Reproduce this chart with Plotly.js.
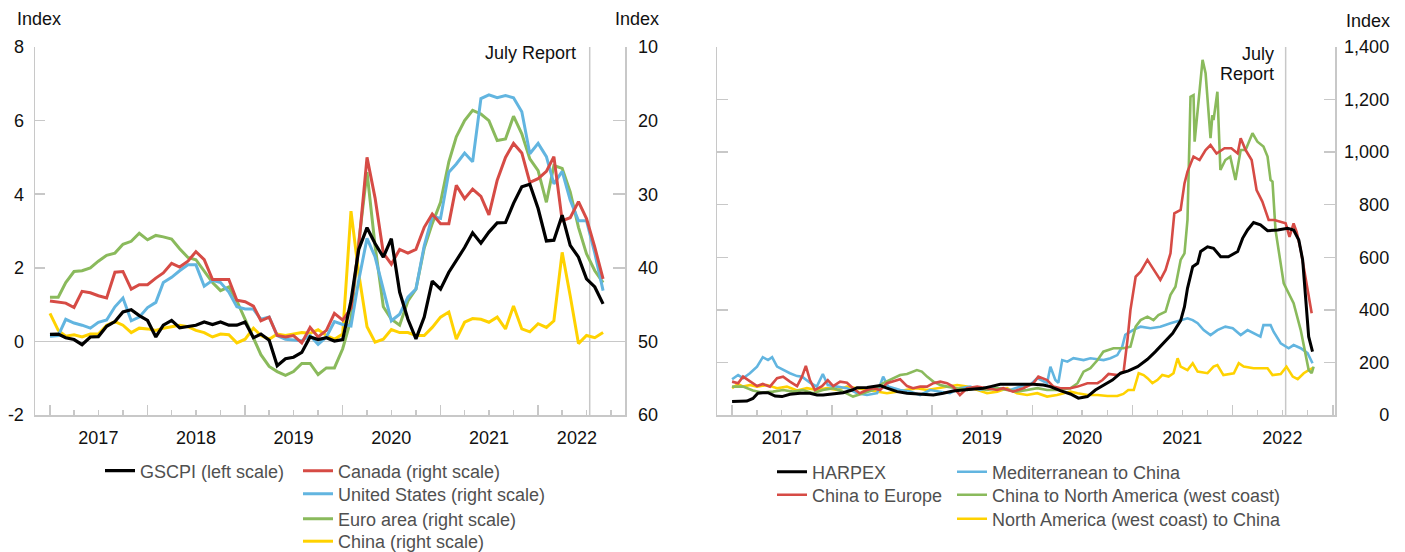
<!DOCTYPE html>
<html><head><meta charset="utf-8">
<script src="https://cdn.plot.ly/plotly-3.0.1.min.js"></script>
<style>html,body{margin:0;padding:0;background:#fff}#chart{width:1405px;height:552px}</style>
</head><body><div id="chart"></div>
<script>
// ---------- Left panel: monthly data (Jan 2017 - Sep 2022) ----------
const months = [
'2017-01','2017-02','2017-03','2017-04','2017-05','2017-06','2017-07','2017-08','2017-09','2017-10','2017-11','2017-12',
'2018-01','2018-02','2018-03','2018-04','2018-05','2018-06','2018-07','2018-08','2018-09','2018-10','2018-11','2018-12',
'2019-01','2019-02','2019-03','2019-04','2019-05','2019-06','2019-07','2019-08','2019-09','2019-10','2019-11','2019-12',
'2020-01','2020-02','2020-03','2020-04','2020-05','2020-06','2020-07','2020-08','2020-09','2020-10','2020-11','2020-12',
'2021-01','2021-02','2021-03','2021-04','2021-05','2021-06','2021-07','2021-08','2021-09','2021-10','2021-11','2021-12',
'2022-01','2022-02','2022-03','2022-04','2022-05','2022-06','2022-07','2022-08','2022-09'];
// GSCPI, left scale
const gscpi = [
0.19,0.20,0.10,0.05,-0.09,0.12,0.13,0.41,0.54,0.80,0.86,0.70,
0.57,0.12,0.44,0.57,0.37,0.41,0.44,0.53,0.46,0.53,0.44,0.44,
0.53,0.10,0.20,0.03,-0.66,-0.47,-0.43,-0.30,0.12,0.05,0.10,0.01,
0.05,1.10,2.50,3.09,2.66,2.29,2.79,1.34,0.60,0.07,0.66,1.64,
1.42,1.88,2.20,2.55,2.95,2.67,2.97,3.22,3.23,3.75,4.20,4.27,
3.61,2.73,2.75,3.43,2.61,2.29,1.70,1.48,1.02];
// PMI supplier delivery indexes, right scale (inverted)
const canada = [
44.5,44.7,44.8,45.4,43.2,43.4,43.8,44.1,40.6,40.5,42.9,42.3,
42.3,41.4,40.7,39.4,39.9,39.1,37.8,38.9,41.6,41.6,41.6,44.4,
44.6,45.2,47.2,46.7,49.2,49.4,49.2,50.2,48.1,49.4,48.5,46.2,
47.1,45.5,37.0,25.0,30.5,38.0,39.5,37.5,38.0,37.5,34.5,32.7,
34.0,34.0,28.8,30.6,29.3,30.3,32.8,28.1,25.0,23.1,24.4,28.4,
27.9,26.9,24.9,33.6,33.2,31.0,33.3,37.2,41.5];
const unitedStates = [
49.3,49.2,47.0,47.5,47.8,48.2,47.4,47.1,45.3,44.1,47.2,46.7,
45.4,44.7,42.0,41.3,40.4,39.6,39.6,42.5,41.7,42.0,43.3,45.3,
45.6,45.6,47.0,46.7,49.2,49.7,49.8,49.9,49.2,50.4,49.4,47.3,
47.7,47.9,41.7,36.0,38.5,42.8,47.2,46.3,44.0,42.9,37.0,33.0,
33.3,27.0,25.9,24.4,25.6,17.0,16.5,16.9,16.6,16.9,18.8,24.5,
23.1,24.9,28.6,26.9,30.8,33.6,33.6,38.0,43.1];
const euroArea = [
44.0,44.0,42.0,40.5,40.4,40.0,39.1,38.3,38.0,36.8,36.4,35.3,
36.2,35.6,35.8,36.1,37.4,38.6,38.9,40.5,42.0,43.1,42.6,44.5,
47.0,49.5,51.8,53.4,54.1,54.6,54.1,53.0,53.0,54.5,53.6,53.6,
51.0,47.0,36.5,27.0,37.0,45.3,47.0,47.8,44.5,42.9,37.3,34.0,
31.1,25.6,22.2,20.0,18.6,19.1,20.0,22.7,22.5,19.4,21.8,25.2,
26.8,31.1,26.1,26.5,29.7,34.5,38.1,40.4,42.0];
const china = [
46.2,48.5,49.3,49.1,49.4,49.0,49.0,47.8,47.3,47.8,48.8,48.2,
48.3,48.5,48.2,48.0,47.8,48.0,48.5,48.8,49.4,49.0,49.1,50.2,
49.7,48.2,49.2,49.7,49.0,49.2,49.0,48.8,48.9,48.4,49.2,49.7,
49.0,32.3,40.8,48.0,50.1,49.7,48.4,48.8,48.8,49.2,49.2,48.1,
46.7,46.0,49.7,47.4,46.9,47.0,47.4,46.7,48.3,45.2,48.3,48.7,
47.6,48.1,47.2,37.9,43.8,50.3,49.2,49.5,48.8];

// ---------- Right panel: shipping cost indexes ----------
const harpexDates = ['2017-01-01','2017-02-24','2017-03-18','2017-04-05','2017-04-23','2017-05-12','2017-06-07','2017-07-02','2017-07-31','2017-09-06','2017-10-12','2017-11-07','2017-11-29',
'2018-01-05','2018-02-10','2018-03-15','2018-04-02','2018-05-08','2018-06-25','2018-07-20','2018-08-26','2018-10-01','2018-11-18',
'2019-01-05','2019-02-10','2019-03-18','2019-04-23','2019-05-30','2019-07-06','2019-08-01','2019-09-06','2019-10-12','2019-11-18',
'2020-01-05','2020-02-10','2020-03-07','2020-04-12','2020-05-19','2020-06-17','2020-07-20','2020-08-18','2020-09-16','2020-10-19','2020-11-18','2020-12-16',
'2021-01-19','2021-02-24','2021-03-25','2021-04-23','2021-05-27','2021-06-25','2021-07-09','2021-07-20','2021-08-08','2021-08-26','2021-09-06','2021-10-01','2021-10-23','2021-11-18','2021-12-16',
'2022-01-19','2022-02-06','2022-02-24','2022-03-18','2022-04-12','2022-05-08','2022-06-14','2022-07-20','2022-08-11','2022-08-30','2022-09-13','2022-09-24','2022-10-05','2022-10-19'];
const harpex = [51,53,63,83,85,85,72,70,79,83,83,76,76,
80,85,95,104,105,112,102,89,83,80,
76,83,91,95,99,102,108,117,117,117,
117,114,108,93,80,64,70,95,114,133,159,168,
184,212,241,273,311,359,412,482,564,577,622,640,634,602,602,
622,672,704,732,723,701,704,710,704,666,590,425,298,241];

const chinaEuropeDates = ['2017-01-01','2017-01-23','2017-02-10','2017-03-07','2017-04-02','2017-04-23','2017-05-19','2017-06-14','2017-07-06','2017-07-31','2017-08-26','2017-09-13','2017-09-27','2017-10-12','2017-10-30','2017-11-25','2017-12-16',
'2018-01-05','2018-01-30','2018-02-24','2018-03-18','2018-04-12','2018-05-08','2018-05-30','2018-06-25','2018-07-20','2018-08-11','2018-09-06','2018-10-01','2018-10-23','2018-11-18','2018-12-13',
'2019-01-05','2019-01-30','2019-02-24','2019-03-18','2019-04-12','2019-05-08','2019-06-14','2019-07-20','2019-08-26','2019-09-17','2019-10-23','2019-11-29',
'2020-01-05','2020-01-23','2020-02-24','2020-03-18','2020-04-12','2020-05-19','2020-06-14','2020-07-20','2020-08-26','2020-09-13','2020-10-05','2020-11-06','2020-11-29','2020-12-13','2020-12-24',
'2021-01-12','2021-01-30','2021-02-24','2021-03-18','2021-04-12','2021-05-01','2021-05-19','2021-06-02','2021-06-25','2021-07-09','2021-07-20','2021-08-11','2021-09-02','2021-09-24','2021-10-12','2021-11-03','2021-12-02','2021-12-27',
'2022-01-19','2022-01-30','2022-02-17','2022-03-11','2022-03-29','2022-04-19','2022-05-12','2022-06-02','2022-06-21','2022-07-13','2022-07-27','2022-08-11','2022-08-22','2022-09-06','2022-09-27','2022-10-16'];
const chinaEurope = [127,121,146,127,110,118,108,140,146,127,110,146,187,133,95,110,133,
110,127,123,102,83,95,102,95,121,127,136,110,102,108,108,
121,127,121,108,76,102,108,102,95,102,89,102,
121,146,133,108,102,102,108,121,121,133,156,152,165,285,400,
526,545,590,552,514,552,615,767,780,881,926,983,970,1008,1027,995,1015,1015,
995,1053,1008,970,856,812,742,742,735,729,678,729,697,628,501,387];

const medChinaDates = ['2017-01-01','2017-01-23','2017-02-10','2017-03-07','2017-04-02','2017-04-23','2017-05-12','2017-05-27','2017-06-14','2017-07-06','2017-07-31','2017-08-26','2017-09-13','2017-10-12','2017-11-06','2017-11-28','2017-12-16',
'2018-01-19','2018-02-24','2018-04-02','2018-05-08','2018-06-14','2018-07-06','2018-07-24','2018-09-06','2018-10-12','2018-11-18','2018-12-24',
'2019-01-30','2019-03-07','2019-04-12','2019-05-19','2019-06-25','2019-07-31','2019-09-06','2019-10-12','2019-11-18','2019-12-24',
'2020-01-19','2020-02-24','2020-03-07','2020-03-25','2020-04-05','2020-04-19','2020-05-08','2020-05-30','2020-07-06','2020-07-31','2020-08-26','2020-09-17','2020-10-12','2020-11-06','2020-11-24','2020-12-05',
'2021-01-05','2021-01-30','2021-03-07','2021-04-12','2021-05-19','2021-06-25','2021-07-20','2021-08-08','2021-08-26','2021-09-17','2021-10-12','2021-11-06','2021-12-05',
'2022-01-01','2022-01-30','2022-02-24','2022-03-18','2022-04-12','2022-04-23','2022-05-19','2022-05-30','2022-06-25','2022-07-24','2022-08-11','2022-09-06','2022-10-01','2022-10-19'];
const medChina = [136,152,140,159,184,220,209,220,184,171,159,148,146,123,108,156,114,
108,102,83,76,83,146,108,95,89,76,95,
89,83,102,108,95,102,102,95,108,114,
140,121,184,133,123,209,203,216,209,216,212,209,216,228,260,305,
325,336,330,336,349,361,368,361,349,323,304,323,336,
330,304,323,311,298,342,342,317,273,254,266,254,235,197];

const chinaNAmDates = ['2017-01-01','2017-02-10','2017-03-18','2017-04-23','2017-05-30','2017-07-06','2017-08-11','2017-09-17','2017-10-23','2017-11-28',
'2018-01-05','2018-02-10','2018-03-18','2018-04-23','2018-05-30','2018-07-06','2018-08-08','2018-09-06','2018-10-01','2018-10-23','2018-11-06','2018-11-24','2018-12-13',
'2019-01-05','2019-01-30','2019-02-24','2019-04-02','2019-05-08','2019-06-14','2019-07-20','2019-08-26','2019-10-01','2019-11-06','2019-12-13',
'2020-01-19','2020-02-24','2020-03-31','2020-05-19','2020-06-14','2020-07-06','2020-07-31','2020-08-26','2020-09-16','2020-10-23','2020-11-28','2020-12-24',
'2021-01-12','2021-01-30','2021-02-24','2021-03-18','2021-04-05','2021-05-01','2021-05-19','2021-06-06','2021-06-25','2021-07-09','2021-07-20','2021-07-31','2021-08-11','2021-08-15','2021-08-26','2021-09-02','2021-09-13','2021-09-24','2021-10-01','2021-10-12','2021-10-19','2021-10-23','2021-11-06','2021-11-17','2021-12-05','2021-12-23',
'2022-01-11','2022-01-30','2022-02-17','2022-03-14','2022-04-01','2022-04-23','2022-05-08','2022-05-19','2022-05-26','2022-05-30','2022-06-06','2022-07-06','2022-08-11','2022-09-06','2022-09-24','2022-10-05','2022-10-16','2022-10-23'];
const chinaNAm = [108,108,93,85,89,95,89,95,83,95,
102,89,70,83,95,121,136,152,156,165,171,165,146,
127,114,108,102,95,102,95,102,95,89,95,
102,95,95,102,121,165,178,209,241,254,254,260,
336,361,374,361,380,393,457,488,590,615,742,1211,1217,1040,1160,1211,1351,1300,1211,1053,1141,1122,1230,932,970,983,
894,1008,1008,1072,1040,1021,983,894,888,818,704,501,425,323,235,171,159,184];

const nAmChinaDates = ['2017-01-01','2017-01-23','2017-02-10','2017-03-07','2017-04-02','2017-05-08','2017-06-14','2017-07-20','2017-08-26','2017-10-01','2017-11-06','2017-12-13',
'2018-01-19','2018-02-24','2018-04-02','2018-05-08','2018-06-14','2018-07-20','2018-08-26','2018-10-01','2018-11-06','2018-12-13',
'2019-01-19','2019-02-24','2019-04-02','2019-05-08','2019-06-14','2019-07-20','2019-08-26','2019-10-01','2019-11-06','2019-12-13',
'2020-01-19','2020-02-24','2020-03-31','2020-05-19','2020-06-14','2020-07-20','2020-08-26','2020-10-01','2020-11-06','2020-11-28','2020-12-16',
'2021-01-05','2021-01-23','2021-02-10','2021-02-24','2021-03-14','2021-04-01','2021-04-19','2021-05-12','2021-05-30','2021-06-14','2021-06-25','2021-07-20','2021-08-08','2021-08-26','2021-10-01','2021-10-23','2021-11-06','2021-11-28',
'2022-01-05','2022-01-23','2022-02-10','2022-03-18','2022-05-08','2022-05-26','2022-06-25','2022-07-16','2022-08-08','2022-08-26','2022-09-17','2022-10-05','2022-10-19'];
const nAmChina = [102,118,108,114,108,114,102,108,93,102,95,102,
95,108,102,95,89,83,89,95,102,95,
102,108,114,108,95,83,89,102,83,76,
83,70,76,89,83,76,76,72,72,80,95,
95,159,152,140,121,133,152,146,159,216,184,171,197,165,159,184,190,152,
159,197,184,178,178,152,156,184,146,136,159,171,178];

// ---------- Axis tick labels ----------
const yearLabels = ['2017','2018','2019','2020','2021','2022'];
const yearLabelPosLeft = ['2017-07-01','2018-07-01','2019-07-01','2020-07-01','2021-07-01','2022-05-26'];
const yearLabelPosRight = ['2017-07-01','2018-07-01','2019-07-01','2020-07-01','2021-07-01','2022-07-01'];
const gscpiTicks = [-2,0,2,4,6,8];
const gscpiTickText = ['-2','0','2','4','6','8'];
const pmiTicks = [10,20,30,40,50,60];
const shipTicks = [0,200,400,600,800,1000,1200,1400];
const shipTickText = ['\u2007\u2008\u2007\u20070','\u2007\u2008200','\u2007\u2008400','\u2007\u2008600','\u2007\u2008800','1,000','1,200','1,400'];
const reportDate = '2022-07-13';

// ---------- Styling ----------
const W = 1405, H = 552;
const FONT = 'Liberation Sans, Arial, Helvetica, sans-serif';
const GRAY = '#c8c8c8';
const C = {black:'#000000', red:'#d64b45', blue:'#62b5e0', green:'#8aba5c', yellow:'#ffd200'};
const yDom = [1 - 415/H, 1 - 47/H];
const lDom = [35/W, 625/W];
const rDom = [717/W, 1335/W];
const tickFont = {family: FONT, size: 18, color: '#111'};

function line(x, y, color, name, xa, ya, leg, w) {
  return {x: x, y: y, type: 'scatter', mode: 'lines', name: name, xaxis: xa, yaxis: ya,
    legend: leg, showlegend: true, line: {color: color, width: w || 3}, hoverinfo: 'skip'};
}
const data = [
  line(months, china, C.yellow, 'China (right scale)', 'x', 'y', 'legend5'),
  line(months, euroArea, C.green, 'Euro area (right scale)', 'x', 'y', 'legend4'),
  line(months, unitedStates, C.blue, 'United States (right scale)', 'x', 'y', 'legend3'),
  line(months, canada, C.red, 'Canada (right scale)', 'x', 'y', 'legend2'),
  line(months, gscpi, C.black, 'GSCPI (left scale)', 'x3', 'y2', 'legend', 3.2),
  line(nAmChinaDates, nAmChina, C.yellow, 'North America (west coast) to China', 'x2', 'y3', 'legend10', 2.6),
  line(medChinaDates, medChina, C.blue, 'Mediterranean to China', 'x2', 'y3', 'legend8', 2.6),
  line(chinaNAmDates, chinaNAm, C.green, 'China to North America (west coast)', 'x2', 'y3', 'legend9', 2.6),
  line(chinaEuropeDates, chinaEurope, C.red, 'China to Europe', 'x2', 'y3', 'legend7', 2.6),
  line(harpexDates, harpex, C.black, 'HARPEX', 'x4', 'y3', 'legend6', 3)
];

const legendFont = {family: FONT, size: 18, color: '#505050'};
function legendAt(lineStartPx, rowPx) {
  return {visible: true, xref: 'container', yref: 'container',
    x: (lineStartPx - 5) / W, y: 1 - (rowPx + 1) / H, xanchor: 'left', yanchor: 'middle',
    bgcolor: 'rgba(0,0,0,0)', borderwidth: 0, font: legendFont};
}
// bottom-most legend row: anchored by its bottom edge just below the page so that it is not clipped
function legendBottomAt(lineStartPx, boxBottomPx) {
  return {visible: true, xref: 'paper', yref: 'paper',
    x: (lineStartPx - 5) / W, y: 1 - boxBottomPx / H, xanchor: 'left', yanchor: 'bottom',
    bgcolor: 'rgba(0,0,0,0)', borderwidth: 0, font: legendFont};
}
// base axis: year labels + quarterly minor ticks
function dateLabels(dom, range, anchor, pos) {
  return {domain: dom, anchor: anchor, type: 'date', range: range, tickmode: 'array',
    tickvals: pos, ticktext: yearLabels, ticks: '', tickfont: tickFont, ticklabelstandoff: 6,
    minor: {tickmode: 'linear', tick0: '2017-01-01', dtick: 'M3', ticks: 'inside', ticklen: 5, tickwidth: 1.5, tickcolor: GRAY, showgrid: false},
    showline: true, linecolor: GRAY, linewidth: 1.5, showgrid: false, zeroline: false, automargin: false, fixedrange: true};
}
// overlay axis: long yearly ticks
function dateTicks(over, anchor, range) {
  return {overlaying: over, anchor: anchor, type: 'date', range: range,
    tickmode: 'linear', tick0: '2017-01-01', dtick: 'M12', ticks: 'inside', ticklen: 10,
    tickwidth: 1.5, tickcolor: GRAY, showticklabels: false,
    showline: false, showgrid: false, zeroline: false, automargin: false, fixedrange: true};
}
const rangeL = ['2016-11-06', '2022-11-22'];
const rangeR = ['2016-11-07', '2023-01-09'];

const layout = {
  width: W, height: H, margin: {l: 0, r: 0, t: 0, b: 0, autoexpand: false},
  paper_bgcolor: '#fff', plot_bgcolor: 'rgba(0,0,0,0)',
  font: {family: FONT, size: 18, color: '#111'},
  showlegend: true,
  xaxis: dateLabels(lDom, rangeL, 'y', yearLabelPosLeft),
  xaxis3: dateTicks('x', 'y', rangeL),
  xaxis2: dateLabels(rDom, rangeR, 'y3', yearLabelPosRight),
  xaxis4: dateTicks('x2', 'y3', rangeR),
  yaxis: {domain: yDom, anchor: 'x', side: 'right', range: [60, 10], tickmode: 'array', tickvals: pmiTicks,
    ticks: 'inside', ticklen: 12, tickwidth: 1.5, tickcolor: GRAY, showline: true, linecolor: GRAY, linewidth: 1.5,
    showgrid: false, zeroline: false, tickfont: tickFont, ticklabelstandoff: 8, automargin: false, fixedrange: true},
  yaxis2: {overlaying: 'y', anchor: 'x', side: 'left', range: [-2, 8], tickmode: 'array', tickvals: gscpiTicks, ticktext: gscpiTickText,
    ticks: 'inside', ticklen: 10, tickwidth: 1.5, tickcolor: GRAY, showline: true, linecolor: GRAY, linewidth: 1.5,
    showgrid: false, zeroline: true, zerolinecolor: GRAY, zerolinewidth: 1.5, tickfont: tickFont, ticklabelstandoff: 6, automargin: false, fixedrange: true},
  yaxis3: {domain: yDom, anchor: 'x2', side: 'right', range: [0, 1400], tickmode: 'array', tickvals: shipTicks, ticktext: shipTickText,
    ticks: 'inside', ticklen: 11, tickwidth: 1.5, tickcolor: GRAY, mirror: 'ticks', showline: true, linecolor: GRAY, linewidth: 1.5,
    showgrid: false, zeroline: false, tickfont: tickFont, ticklabelstandoff: 4, automargin: false, fixedrange: true},
  legend: legendAt(105, 470),
  legend2: legendAt(303, 470),
  legend3: legendAt(303, 493),
  legend4: legendAt(303, 518),
  legend5: legendBottomAt(303, 560),
  legend6: legendAt(777, 471),
  legend7: legendAt(777, 494),
  legend8: legendAt(957, 471),
  legend9: legendAt(957, 494),
  legend10: legendAt(957, 518),
  shapes: [
    {type: 'line', xref: 'x', yref: 'y domain', x0: reportDate, x1: reportDate, y0: 0, y1: 1, layer: 'below', line: {color: GRAY, width: 1.5}},
    {type: 'line', xref: 'x2', yref: 'y3 domain', x0: reportDate, x1: reportDate, y0: 0, y1: 1, layer: 'below', line: {color: GRAY, width: 1.5}}
  ],
  annotations: [
    {text: 'Index', xref: 'paper', yref: 'paper', x: 15/W, y: 1 - 19/H, xanchor: 'left', yanchor: 'middle', showarrow: false},
    {text: 'Index', xref: 'paper', yref: 'paper', x: 613/W, y: 1 - 19/H, xanchor: 'left', yanchor: 'middle', showarrow: false},
    {text: 'Index', xref: 'paper', yref: 'paper', x: 1344/W, y: 1 - 21/H, xanchor: 'left', yanchor: 'middle', showarrow: false},
    {text: 'July Report', xref: 'paper', yref: 'paper', x: 578/W, y: 1 - 53/H, xanchor: 'right', yanchor: 'middle', showarrow: false},
    {text: 'July', xref: 'paper', yref: 'paper', x: 1276/W, y: 1 - 54/H, xanchor: 'right', yanchor: 'middle', showarrow: false},
    {text: 'Report', xref: 'paper', yref: 'paper', x: 1276/W, y: 1 - 74/H, xanchor: 'right', yanchor: 'middle', showarrow: false}
  ]
};

Plotly.newPlot('chart', data, layout, {displayModeBar: false, staticPlot: true});
</script>
</body></html>
